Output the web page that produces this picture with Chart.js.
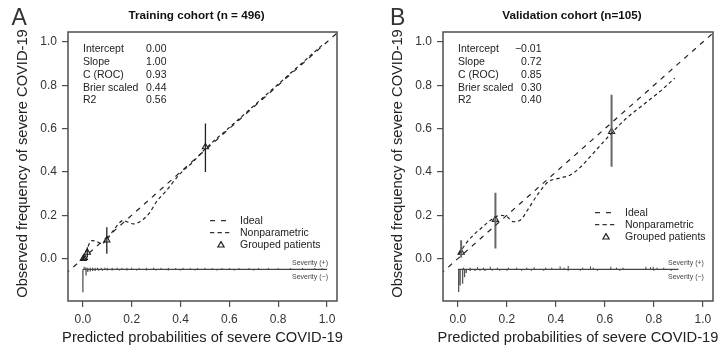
<!DOCTYPE html>
<html>
<head>
<meta charset="utf-8">
<title>Calibration plots</title>
<script src="https://cdn.jsdelivr.net/npm/chart.js@4"></script>
<style>
  html, body { margin: 0; padding: 0; background: #fff; }
  #wrap { position: relative; width: 723px; height: 352px; }
  canvas { position: absolute; top: 0; }
  #cA { left: 0; }
  #cB { left: 361px; }
</style>
</head>
<body>
<div id="wrap">
  <canvas id="cA" width="361" height="352"></canvas>
  <canvas id="cB" width="362" height="352"></canvas>
</div>
<script>
const xTicks = [0, 0.2, 0.4, 0.6, 0.8, 1.0];
const yTicks = [0, 0.2, 0.4, 0.6, 0.8, 1.0];
const statLabels = ["Intercept", "Slope", "C (ROC)", "Brier scaled", "R2"];
const legendLabels = ["Ideal", "Nonparametric", "Grouped patients"];

// Training cohort
const statsA = ["0.00", "1.00", "0.93", "0.44", "0.56"];
const npAx = [0.0, 0.015, 0.037, 0.055, 0.077, 0.098, 0.125, 0.166, 0.18, 0.207, 0.24, 0.275, 0.30, 0.343, 0.397, 0.45, 0.5, 0.6, 0.7, 0.8, 0.9, 0.98];
const npAy = [0.0, 0.04, 0.083, 0.08, 0.068, 0.088, 0.13, 0.176, 0.17, 0.16, 0.175, 0.214, 0.26, 0.315, 0.39, 0.445, 0.505, 0.605, 0.705, 0.805, 0.905, 0.985];
const grpAx = [0.002, 0.006, 0.018, 0.098, 0.502];
const grpAy = [0.0, 0.004, 0.028, 0.085, 0.515];
const grpAlo = [0.0, 0.0, 0.005, 0.022, 0.40];
const grpAhi = [0.006, 0.012, 0.052, 0.145, 0.623];
const rugAupX = [0.005, 0.012, 0.02, 0.03, 0.04, 0.05, 0.06, 0.075, 0.09, 0.1, 0.12, 0.14, 0.16, 0.18, 0.2, 0.23, 0.26, 0.29, 0.32, 0.35, 0.38, 0.41, 0.44, 0.47, 0.5, 0.53, 0.57, 0.6, 0.64, 0.68, 0.72, 0.76, 0.8, 0.85, 0.9, 0.95, 0.98];
const rugAupH = [0.012, 0.01, 0.008, 0.008, 0.008, 0.007, 0.008, 0.007, 0.008, 0.007, 0.007, 0.008, 0.007, 0.007, 0.008, 0.007, 0.007, 0.008, 0.007, 0.007, 0.006, 0.007, 0.006, 0.006, 0.007, 0.006, 0.006, 0.006, 0.006, 0.006, 0.006, 0.006, 0.006, 0.006, 0.006, 0.006, 0.006];
const rugAdnX = [0.0, 0.013, 0.02, 0.03, 0.04, 0.05, 0.065, 0.08, 0.1, 0.12, 0.15, 0.18, 0.22, 0.26, 0.3, 0.35, 0.4, 0.46, 0.55, 0.62, 0.7];
const rugAdnH = [0.106, 0.028, 0.012, 0.01, 0.008, 0.007, 0.006, 0.006, 0.005, 0.005, 0.005, 0.005, 0.005, 0.005, 0.005, 0.005, 0.005, 0.005, 0.005, 0.005, 0.005];
const rugAend = 1.0;

// Validation cohort
const statsB = ["\u22120.01", "0.72", "0.85", "0.30", "0.40"];
const npBx = [0.003, 0.01, 0.04, 0.07, 0.1, 0.125, 0.15, 0.172, 0.2, 0.226, 0.254, 0.288, 0.328, 0.369, 0.41, 0.457, 0.498, 0.552, 0.627, 0.688, 0.756, 0.824, 0.885];
const npBy = [0.02, 0.032, 0.08, 0.116, 0.145, 0.17, 0.19, 0.2, 0.193, 0.17, 0.177, 0.231, 0.30, 0.355, 0.37, 0.385, 0.42, 0.486, 0.579, 0.648, 0.71, 0.771, 0.833];
const grpBx = [0.013, 0.153, 0.627];
const grpBy = [0.028, 0.18, 0.586];
const grpBlo = [0.005, 0.046, 0.424];
const grpBhi = [0.085, 0.304, 0.756];
const rugBupX = [0.023, 0.05, 0.08, 0.104, 0.132, 0.161, 0.206, 0.24, 0.281, 0.311, 0.358, 0.383, 0.417, 0.433, 0.45, 0.509, 0.541, 0.552, 0.624, 0.647, 0.674, 0.767, 0.786, 0.797, 0.813, 0.84];
const rugBupH = [0.008, 0.008, 0.01, 0.008, 0.012, 0.008, 0.008, 0.008, 0.008, 0.01, 0.008, 0.008, 0.014, 0.008, 0.016, 0.008, 0.014, 0.008, 0.012, 0.008, 0.008, 0.012, 0.01, 0.012, 0.008, 0.008];
const rugBdnX = [0.003, 0.009, 0.019, 0.027, 0.034, 0.05, 0.07, 0.09, 0.11, 0.14, 0.17, 0.2, 0.26, 0.3, 0.35, 0.45, 0.5, 0.57, 0.66, 0.8, 0.87];
const rugBdnH = [0.105, 0.074, 0.066, 0.036, 0.017, 0.008, 0.008, 0.006, 0.008, 0.006, 0.006, 0.006, 0.006, 0.006, 0.006, 0.006, 0.006, 0.006, 0.006, 0.006, 0.006];
const rugBend = 0.9;

const rugBase = -0.05;
const FONT = '"Liberation Sans", Arial, sans-serif';

const pts = (xs, ys) => xs.map((v, i) => ({ x: v, y: ys[i] }));
const bars = (xs, lo, hi) => xs.flatMap((v, i) => [{ x: v, y: lo[i] }, { x: v, y: hi[i] }, { x: v, y: null }]);
const spikes = (xs, hs, dir) => xs.flatMap((v, i) => [{ x: v, y: rugBase }, { x: v, y: rugBase + dir * hs[i] }, { x: v, y: null }]);

const decor = {
  id: "decor",
  afterDraw(chart, args, o) {
    const { ctx, chartArea: a, scales: { x, y } } = chart;
    const cx = (a.left + a.right) / 2;
    ctx.save();
    ctx.strokeStyle = "#4d4d4d";
    ctx.lineWidth = 1.5;
    ctx.strokeRect(a.left, a.top, a.right - a.left, a.bottom - a.top);

    // panel letter + title
    ctx.fillStyle = "#333";
    ctx.textAlign = "left";
    ctx.textBaseline = "alphabetic";
    ctx.font = '23px "Liberation Sans Narrow", ' + FONT;
    ctx.fillText(o.letter, o.letterX, 25);
    ctx.fillStyle = "#111";
    ctx.textAlign = "center";
    ctx.textBaseline = "middle";
    ctx.font = "bold 11.7px " + FONT;
    ctx.fillText(o.title, cx - 6, 16);

    // axis titles
    ctx.fillStyle = "#222";
    ctx.font = "14.7px " + FONT;
    ctx.fillText("Predicted probabilities of severe COVID-19", cx, 338);
    ctx.save();
    ctx.translate(a.left - 45, (a.top + a.bottom) / 2 - 3);
    ctx.rotate(-Math.PI / 2);
    ctx.fillText("Observed frequency of severe COVID-19", 0, 0);
    ctx.restore();

    // stats
    ctx.font = "10.5px " + FONT;
    ctx.fillStyle = "#222";
    const rows = [17, 30, 43, 56, 68];
    statLabels.forEach((s, i) => {
      ctx.textAlign = "left";
      ctx.fillText(s, a.left + 15, a.top + rows[i]);
      ctx.textAlign = "right";
      ctx.fillText(o.stats[i], a.left + 98.5, a.top + rows[i]);
    });

    // legend
    const lx = a.left + o.legX, ly = a.top + o.legY;
    ctx.strokeStyle = "#333";
    ctx.lineWidth = 1.2;
    ctx.setLineDash([5, 6]);
    ctx.beginPath(); ctx.moveTo(lx, ly); ctx.lineTo(lx + 17, ly); ctx.stroke();
    ctx.setLineDash([4.3, 3.2]);
    ctx.beginPath(); ctx.moveTo(lx, ly + 12); ctx.lineTo(lx + 20, ly + 12); ctx.stroke();
    ctx.setLineDash([]);
    ctx.save();
    ctx.fillStyle = "rgba(0,0,0,0)";
    ctx.strokeStyle = "#222";
    Chart.helpers.drawPoint(ctx, { pointStyle: "triangle", radius: 3.6, borderWidth: 1.1 }, lx + 11, ly + 24.5);
    ctx.restore();
    ctx.textAlign = "left";
    legendLabels.forEach((s, i) => ctx.fillText(s, lx + 30, ly + i * 12.2));

    // rug labels
    ctx.font = "7px " + FONT;
    ctx.fillStyle = "#444";
    ctx.textAlign = "right";
    const rx = x.getPixelForValue(1.0) + 1, ry = y.getPixelForValue(rugBase);
    ctx.fillText("Severity (+)", rx, ry - 6);
    ctx.fillText("Severity (\u2212)", rx, ry + 8);
    ctx.restore();
  }
};

function makeChart(id, d) {
  const line = (data, extra) => Object.assign({ data, showLine: true, pointRadius: 0, borderColor: "#222", borderWidth: 1.2, fill: false }, extra);
  return new Chart(document.getElementById(id), {
    type: "scatter",
    data: {
      datasets: [
        line([{ x: -0.2, y: -0.2 }, { x: 1.2, y: 1.2 }], { borderDash: [5, 5.5] }),
        line(pts(d.npx, d.npy), { borderDash: [3.5, 3], cubicInterpolationMode: "monotone" }),
        line(bars(d.gx, d.glo, d.ghi), { borderColor: d.barColor, borderWidth: d.barWidth }),
        { data: pts(d.gx, d.gy), pointStyle: "triangle", pointRadius: 3.6, pointBorderWidth: 1.1, pointBorderColor: "#222", pointBackgroundColor: "rgba(0,0,0,0)" },
        line([{ x: 0, y: rugBase }, { x: d.rugEnd, y: rugBase }], { borderColor: "#444", borderWidth: 1.2 }),
        line(spikes(d.upX, d.upH, 1), { borderColor: "#444", borderWidth: 1 }),
        line(spikes(d.dnX, d.dnH, -1), { borderColor: "#555", borderWidth: 1.3 })
      ]
    },
    options: {
      responsive: false,
      animation: false,
      layout: { padding: { left: 0, right: d.padRight, top: 32, bottom: 0 } },
      plugins: { legend: { display: false }, tooltip: { enabled: false }, decor: d.decor },
      scales: {
        x: {
          type: "linear", min: -0.061, max: 1.041,
          afterBuildTicks: s => { s.ticks = xTicks.map(v => ({ value: v })); },
          afterFit: s => { s.height = 51; },
          grid: { drawOnChartArea: false, tickLength: 6, color: "#4d4d4d", lineWidth: 1.2 },
          border: { display: false },
          ticks: { font: { family: FONT, size: 12 }, color: "#333", padding: 5, maxRotation: 0, callback: v => v.toFixed(1) }
        },
        y: {
          type: "linear", min: -0.196, max: 1.046,
          afterBuildTicks: s => { s.ticks = yTicks.map(v => ({ value: v })); },
          afterFit: s => { s.width = d.yWidth; },
          grid: { drawOnChartArea: false, tickLength: 6, color: "#4d4d4d", lineWidth: 1.2 },
          border: { display: false },
          ticks: { font: { family: FONT, size: 12 }, color: "#333", padding: 5, callback: v => v.toFixed(1) }
        }
      }
    },
    plugins: [decor]
  });
}

makeChart("cA", {
  npx: npAx, npy: npAy, gx: grpAx, gy: grpAy, glo: grpAlo, ghi: grpAhi,
  upX: rugAupX, upH: rugAupH, dnX: rugAdnX, dnH: rugAdnH, rugEnd: rugAend,
  barColor: "#222", barWidth: 1.3, yWidth: 68, padRight: 24,
  decor: { letter: "A", letterX: 11.5, title: "Training cohort (n = 496)", stats: statsA, legX: 142, legY: 188.7 }
});

makeChart("cB", {
  npx: npBx, npy: npBy, gx: grpBx, gy: grpBy, glo: grpBlo, ghi: grpBhi,
  upX: rugBupX, upH: rugBupH, dnX: rugBdnX, dnH: rugBdnH, rugEnd: rugBend,
  barColor: "#666", barWidth: 2, yWidth: 82, padRight: 10,
  decor: { letter: "B", letterX: 29, title: "Validation cohort (n=105)", stats: statsB, legX: 152, legY: 180.7 }
});
</script>
</body>
</html>
